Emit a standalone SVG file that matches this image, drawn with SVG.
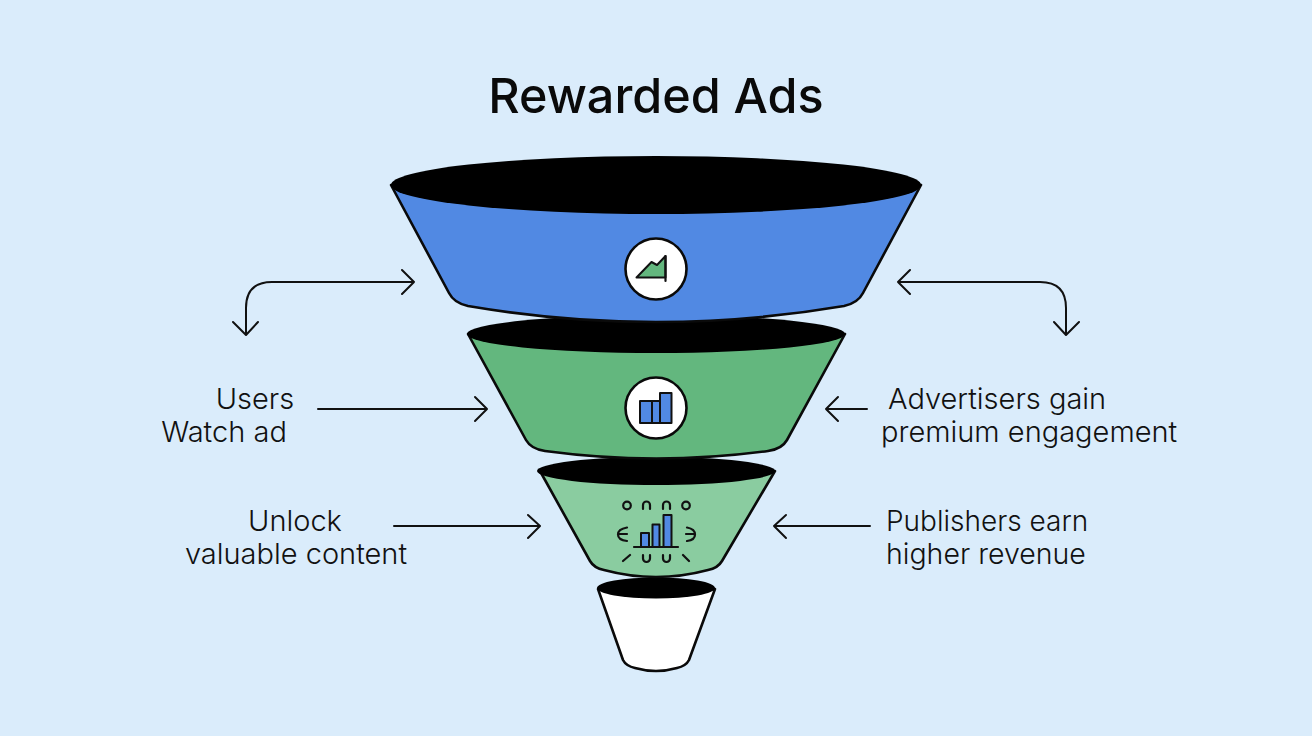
<svg xmlns="http://www.w3.org/2000/svg" width="1312" height="736" viewBox="0 0 1312 736">
<style>
.t{font-family:Inter,"Liberation Sans",sans-serif;font-size:29px;fill:#111;font-weight:300}
.title{font-family:Inter,"Liberation Sans",sans-serif;font-size:48.500px;font-weight:500;fill:#0a0a0a}
.o{stroke:#0a0a0a;stroke-width:2.6;stroke-linejoin:round}
.c{fill:none;stroke:#111;stroke-width:2;stroke-linecap:round;stroke-linejoin:round}
.i{stroke:#111;stroke-width:2;stroke-linejoin:round}
.l{fill:none;stroke:#111;stroke-width:2.2;stroke-linecap:round}
.blue{fill:#5189e3}
</style>
<rect width="1312" height="736" fill="#daecfb"/>
<text class="title" x="656" y="113" text-anchor="middle">Rewarded Ads</text>
<g id="connectors">
<path class="c" d="M414 282H272Q246 282 246 308V334M402 270L414 282L402 294M233 322L246 335L258 322"/>
<path class="c" d="M898 282H1040Q1066 282 1066 308V334M910 270L898 282L910 294M1054 322L1066 335L1079 322"/>
<path class="c" d="M318 409H486M475 397L487 409L475 421"/>
<path class="c" d="M867 409H826M838 397L826 409L838 421"/>
<path class="c" d="M394 526H539M528 515L540 526L528 538"/>
<path class="c" d="M870 526H774M786 515L774 526L786 538"/>
</g>
<g id="stage4">
<path class="o" fill="#fff" d="M598 589L623 660Q626 666 635 668Q656 674 677 668Q686 666 689 660L715 589Z"/>
<ellipse cx="656" cy="588" rx="59" ry="10.500" fill="#000"/>
</g>
<g id="stage3">
<path class="o" fill="#8acca0" d="M540 471L590 561Q594 568 604 570Q656 584 708 570Q718 568 722 561L775 471Z"/>
<ellipse cx="656" cy="471" rx="119" ry="14" fill="#000"/>
<g class="l">
<circle cx="627" cy="505.500" r="3.800"/><circle cx="686" cy="505.500" r="3.800"/>
<path d="M643 509V505a3.500 3.500 0 0 1 7 0V509M663 509V505a3.500 3.500 0 0 1 7 0V509M643 555V558.500a3.500 3.500 0 0 0 7 0V555M663 555V558.500a3.500 3.500 0 0 0 7 0V555M630 555L623 561M683 555L689 561M627 527.500Q618 529 618 534.500Q618 540 627 541M618 534H627M687 527.500Q695 529 695 534.500Q695 540 687 541M695 534H686M634 547H678"/>
</g>
<rect class="i blue" x="641" y="533" width="8" height="14"/><rect class="i blue" x="652.500" y="524.500" width="7" height="22.500"/><rect class="i blue" x="663.500" y="515" width="8" height="32"/>
</g>
<g id="stage2">
<path class="o" fill="#63b77e" d="M468 334L526 440Q531 449 545 451Q656 466 768 451Q782 449 787 440L845 334Z"/>
<ellipse cx="656" cy="334" rx="189" ry="19" fill="#000"/>
<circle class="o" cx="656" cy="408" r="30.500" fill="#fff"/>
<path class="i blue" stroke-width="2.400" d="M640 401H652V423H640ZM652 401H660V423H652ZM660 393H671.500V423H660Z"/>
</g>
<g id="stage1">
<path class="o" fill="#5189e3" d="M391 185L449 293Q454 303 468 306Q656 338 844 306Q858 303 863 293L921 185Z"/>
<ellipse cx="656" cy="185" rx="265" ry="29" fill="#000"/>
<circle class="o" cx="656" cy="269" r="30.500" fill="#fff"/>
<path class="i" fill="#63b77e" d="M636.500 277.500L651.500 262L657 265L665.500 256V277.500Z"/>
<path class="l" d="M665.500 256V281"/>
</g>
<g id="label-users"><text class="t" x="255" y="408.500" text-anchor="middle">Users</text><text class="t" x="224" y="441.500" text-anchor="middle">Watch ad</text></g>
<g id="label-advertisers"><text class="t" x="888" y="408.500">Advertisers gain</text><text class="t" x="881" y="441.500">premium engagement</text></g>
<g id="label-unlock"><text class="t" x="295" y="530.500" text-anchor="middle">Unlock</text><text class="t" x="296" y="563.500" text-anchor="middle">valuable content</text></g>
<g id="label-publishers"><text class="t" style="font-size:28px" x="886" y="530.500">Publishers earn</text><text class="t" style="font-size:28.500px" x="886" y="563.500">higher revenue</text></g>
</svg>
